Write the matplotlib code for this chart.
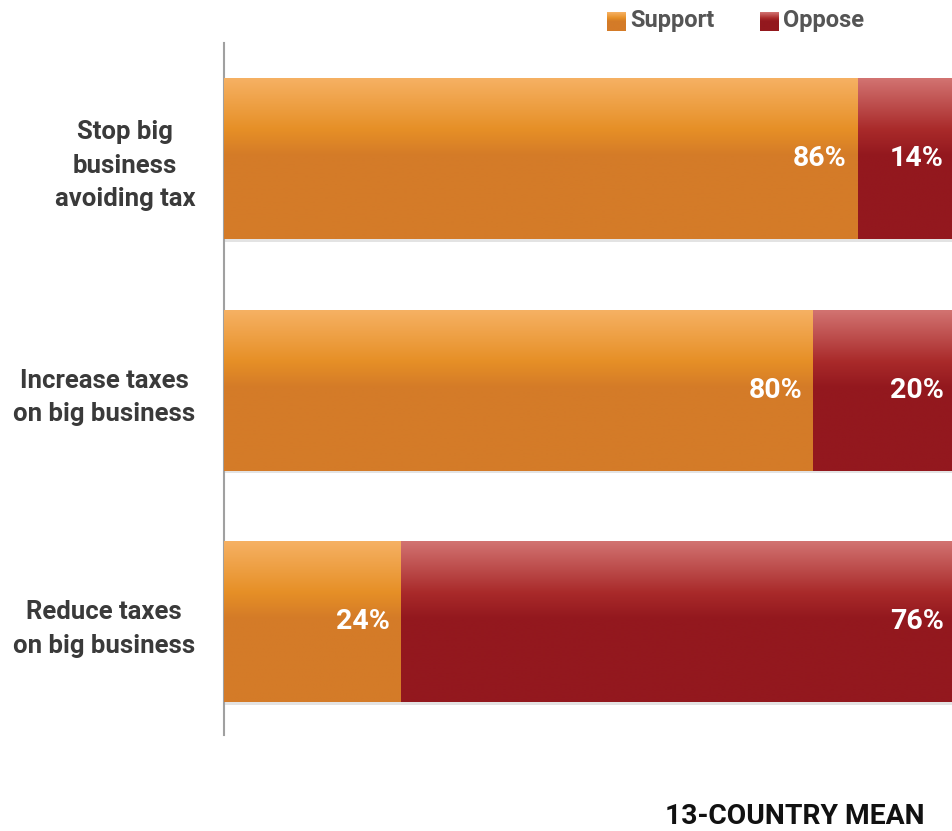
import numpy as np
import matplotlib
matplotlib.use("Agg")
import matplotlib.pyplot as plt
from matplotlib.colors import to_rgb

categories = ["Stop big\nbusiness\navoiding tax", "Increase taxes\non big business", "Reduce taxes\non big business"]
support = [86, 80, 24]
oppose = [14, 20, 76]
series_names = ["Support", "Oppose"]

# top -> mid -> base colours for the glossy gradient
ORANGE = ("#f6b163", "#e68f26", "#d47b28")
RED = ("#d27371", "#a92a2a", "#93181e")


def gradient(colors, n=200):
    stops = [0.0, 0.32, 0.48, 1.0]
    cols = [to_rgb(colors[0]), to_rgb(colors[1]), to_rgb(colors[2]), to_rgb(colors[2])]
    t = np.linspace(0, 1, n)
    arr = np.zeros((n, 1, 3))
    for k in range(3):
        arr[:, 0, k] = np.interp(t, stops, [c[k] for c in cols])
    return arr


fig = plt.figure(figsize=(9.53, 8.31), dpi=100)
# the 100% end sits slightly past the right edge of the figure, as in the original
ax = fig.add_axes([0.2355, 0.1155, 0.7725, 0.8328])

font = "Roboto"
height = 0.695
y = np.arange(len(categories))

for i in y:
    segs = [(0, support[i], ORANGE), (support[i], oppose[i], RED)]
    for left, width, cols in segs:
        # soft shadow under the bar
        ax.barh(i + 0.012, width, left=left, height=height, color="#b0b0b0", alpha=0.35, zorder=1)
        bar = ax.barh(i, width, left=left, height=height, color=cols[2], zorder=2)[0]
        im = ax.imshow(gradient(cols), extent=(left, left + width, i + height / 2, i - height / 2),
                       aspect="auto", origin="upper", zorder=3, interpolation="bilinear")
        im.set_clip_path(bar)
        right = min(left + width, 99.2)
        ax.annotate(f"{width}%", xy=(right, i), xytext=(-8, 0), textcoords="offset points",
                    ha="right", va="center", color="white", fontsize=20.5, fontweight="bold",
                    family=font, zorder=4)

ax.set_xlim(0, 100)
ax.set_ylim(2.49, -0.5)
ax.set_xticks([])
ax.set_yticks(y)
ax.set_yticklabels(categories, fontsize=18.5, fontweight="bold", family=font, color="#3a3a3a",
                   multialignment="center", linespacing=1.5)
ax.tick_params(axis="y", length=0, pad=21)
for lbl in ax.get_yticklabels():
    lbl.set_y(lbl.get_position()[1])
    lbl.set_va("center_baseline")
for side in ["top", "right", "bottom"]:
    ax.spines[side].set_visible(False)
ax.spines["left"].set_color("#a0a0a0")
ax.spines["left"].set_linewidth(1.5)

# legend drawn as squares + text in figure coords
for name, cols, x0 in [(series_names[0], ORANGE, 607), (series_names[1], RED, 760)]:
    sq = fig.add_axes([x0 / 953, 1 - 31 / 831, 19 / 953, 19 / 831])
    sq.imshow(gradient(cols, 50), aspect="auto", extent=(0, 1, 0, 1))
    sq.axis("off")
    fig.text((x0 + 23) / 953, 1 - 21 / 831, name, ha="left", va="center", fontsize=17,
             fontweight="bold", family=font, color="#555555")

fig.text(925 / 953, 1 - 816 / 831, "13-COUNTRY MEAN", ha="right", va="center", fontsize=20.3,
         fontweight="bold", family=font, color="#111111")

fig.savefig("out.png", dpi=100)
